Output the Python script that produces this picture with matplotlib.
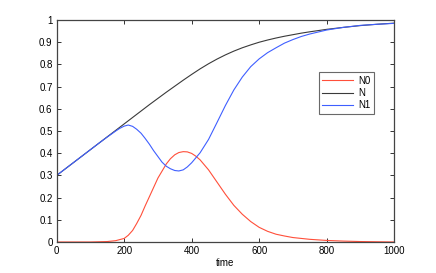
import matplotlib
matplotlib.use("Agg")
import matplotlib.pyplot as plt

plt.rcParams['font.family'] = ['Liberation Sans', 'DejaVu Sans']

# Data
t_N = [0, 25, 50, 75, 100, 125, 150, 175, 200, 225, 250, 275, 300, 325, 350,
       375, 400, 425, 450, 475, 500, 525, 550, 575, 600, 625, 650, 675, 700,
       725, 750, 800, 850, 900, 950, 1000]
N = [0.300, 0.329, 0.358, 0.387, 0.416, 0.445, 0.474, 0.503, 0.532, 0.561,
     0.590, 0.619, 0.647, 0.675, 0.702, 0.729, 0.755, 0.780, 0.803, 0.824,
     0.843, 0.860, 0.875, 0.888, 0.900, 0.910, 0.919, 0.927, 0.934, 0.941,
     0.947, 0.958, 0.967, 0.975, 0.981, 0.986]

t_N1 = [0, 25, 50, 75, 100, 125, 150, 175, 187, 200, 212, 225, 237, 250, 262,
        275, 287, 300, 312, 325, 337, 350, 362, 375, 387, 400, 425, 450, 475,
        500, 525, 550, 575, 600, 625, 650, 675, 700, 725, 750, 800, 850, 900,
        950, 1000]
N1 = [0.300, 0.329, 0.358, 0.387, 0.416, 0.445, 0.473, 0.500, 0.512, 0.522,
      0.527, 0.521, 0.508, 0.490, 0.467, 0.440, 0.412, 0.385, 0.360, 0.341,
      0.330, 0.322, 0.320, 0.325, 0.338, 0.357, 0.402, 0.462, 0.538, 0.615,
      0.685, 0.743, 0.790, 0.825, 0.853, 0.875, 0.896, 0.912, 0.926, 0.937,
      0.955, 0.967, 0.976, 0.981, 0.985]

t_N0 = [0, 100, 125, 150, 175, 200, 212, 225, 237, 250, 262, 275, 300, 325,
        337, 350, 362, 375, 387, 400, 412, 425, 450, 475, 500, 525, 550, 575,
        600, 625, 650, 675, 700, 750, 800, 850, 900, 950, 1000]
N0 = [0.0, 0.0, 0.001, 0.002, 0.006, 0.016, 0.030, 0.052, 0.083, 0.120,
      0.162, 0.205, 0.288, 0.352, 0.375, 0.393, 0.403, 0.407, 0.406, 0.399,
      0.387, 0.370, 0.325, 0.270, 0.215, 0.165, 0.125, 0.092, 0.066, 0.048,
      0.035, 0.027, 0.020, 0.012, 0.007, 0.004, 0.002, 0.001, 0.0]

x_ticks = [0, 200, 400, 600, 800, 1000]
y_ticks = [0, 0.1, 0.2, 0.3, 0.4, 0.5, 0.6, 0.7, 0.8, 0.9, 1]
y_tick_labels = ['0', '0.1', '0.2', '0.3', '0.4', '0.5', '0.6', '0.7', '0.8', '0.9', '1']

fig = plt.figure(figsize=(4.36, 2.73), dpi=100)
ax = fig.add_axes([0.130, 0.1136, 0.774, 0.813])

ax.plot(t_N0, N0, color='#ff4f3a', lw=0.8, label='N0')
ax.plot(t_N, N, color='#3a3a3a', lw=0.8, label='N')
ax.plot(t_N1, N1, color='#3f5fff', lw=0.8, label='N1')

ax.set_xlim(0, 1000)
ax.set_ylim(0, 1)
ax.set_xticks(x_ticks)
ax.set_yticks(y_ticks)
ax.set_yticklabels(y_tick_labels)
ax.tick_params(direction='in', length=3, width=0.7, labelsize=7,
               top=True, right=True, colors='#333333', labelcolor='black', pad=3)
for s in ax.spines.values():
    s.set_color('#444444')
    s.set_linewidth(0.9)
ax.set_xlabel('time', fontsize=7, labelpad=1)

leg = ax.legend(loc='upper right', bbox_to_anchor=(0.94, 0.765), fontsize=7,
                frameon=True, fancybox=False, handlelength=3.2,
                borderpad=0.35, labelspacing=0.25, handletextpad=0.5,
                borderaxespad=0)
leg.get_frame().set_edgecolor('#444444')
leg.get_frame().set_linewidth(0.8)

fig.savefig('out.png', dpi=100)
